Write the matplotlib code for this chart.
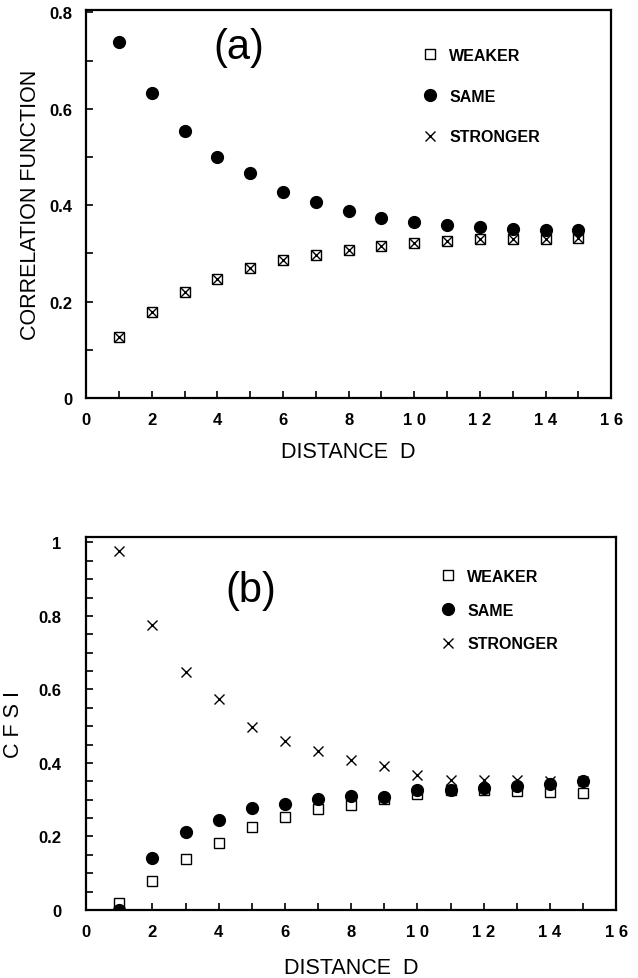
import numpy as np
import matplotlib.pyplot as plt
from matplotlib.ticker import MultipleLocator

plt.rcParams['font.family'] = ['Liberation Sans', 'DejaVu Sans']

d = [1, 2, 3, 4, 5, 6, 7, 8, 9, 10, 11, 12, 13, 14, 15]

# panel (a): correlation function
a_weaker = [0.126, 0.179, 0.219, 0.248, 0.269, 0.286, 0.297, 0.308, 0.315, 0.321, 0.326, 0.329, 0.330, 0.331, 0.332]
a_same = [0.738, 0.632, 0.555, 0.501, 0.467, 0.428, 0.406, 0.388, 0.374, 0.366, 0.358, 0.354, 0.351, 0.349, 0.348]
a_stronger = [0.126, 0.179, 0.219, 0.248, 0.269, 0.286, 0.297, 0.308, 0.315, 0.321, 0.326, 0.329, 0.330, 0.331, 0.332]

# panel (b): CFSI
b_weaker = [0.020, 0.078, 0.138, 0.181, 0.226, 0.254, 0.274, 0.286, 0.303, 0.315, 0.326, 0.327, 0.324, 0.322, 0.319]
b_same = [0.0, 0.141, 0.212, 0.245, 0.278, 0.288, 0.302, 0.310, 0.308, 0.326, 0.326, 0.331, 0.337, 0.344, 0.351]
b_stronger = [0.978, 0.776, 0.648, 0.573, 0.499, 0.460, 0.432, 0.409, 0.393, 0.367, 0.355, 0.354, 0.353, 0.351, 0.351]

labels = ['WEAKER', 'SAME', 'STRONGER']
xticks = [0, 2, 4, 6, 8, 10, 12, 14, 16]
xticklabels = [' '.join(str(v)) for v in xticks]

fig = plt.figure(figsize=(6.38, 9.79), dpi=100)
ax1 = fig.add_axes([0.135, 0.5924, 0.823, 0.3963])
ax2 = fig.add_axes([0.135, 0.0695, 0.831, 0.381])


def draw(ax, weaker, same, stronger):
    ax.plot(d, weaker, 's', mfc='white', mec='black', mew=1.0, ms=7, label=labels[0])
    ax.plot(d, same, 'o', color='black', ms=8.5, label=labels[1])
    ax.plot(d, stronger, 'x', color='black', mew=1.0, ms=7, label=labels[2])
    ax.set_xlim(0, 16)
    ax.set_xticks(xticks)
    ax.set_xticklabels(xticklabels, fontsize=12, fontweight='bold')
    ax.xaxis.set_minor_locator(MultipleLocator(1))
    ax.tick_params(axis='both', which='both', direction='in', top=False, right=False,
                   length=5, width=1.2)
    for s in ax.spines.values():
        s.set_linewidth(1.6)
    ax.set_xlabel('DISTANCE  D', fontsize=15.5)


draw(ax1, a_weaker, a_same, a_stronger)
ax1.set_ylim(0, 0.805)
ax1.set_yticks([0, 0.2, 0.4, 0.6, 0.8])
ax1.set_yticklabels(['0', '0.2', '0.4', '0.6', '0.8'], fontsize=12, fontweight='bold')
ax1.yaxis.set_minor_locator(MultipleLocator(0.1))
ax1.tick_params(axis='x', pad=10)
ax1.tick_params(axis='y', pad=10)
ax1.set_ylabel('CORRELATION FUNCTION', fontsize=15.5, labelpad=6)
ax1.xaxis.set_label_coords(0.5, -0.11)
ax1.text(0.291, 0.905, '(a)', transform=ax1.transAxes, fontsize=30,
         ha='center', va='center')
ax1.legend(loc='upper left', bbox_to_anchor=(0.640, 0.902), frameon=False,
           prop={'size': 11.5, 'weight': 'bold'}, borderpad=0, borderaxespad=0,
           handlelength=1, handletextpad=0.7, labelspacing=1.6)

draw(ax2, b_weaker, b_same, b_stronger)
ax2.set_ylim(0, 1.015)
ax2.set_yticks([0, 0.2, 0.4, 0.6, 0.8, 1.0])
ax2.set_yticklabels(['0', '0.2', '0.4', '0.6', '0.8', '1'], fontsize=12, fontweight='bold')
ax2.yaxis.set_minor_locator(MultipleLocator(0.05))
ax2.tick_params(axis='x', pad=10)
ax2.tick_params(axis='y', pad=18)
ax2.set_ylabel('C F S I', fontsize=15.5, labelpad=10)
ax2.xaxis.set_label_coords(0.5, -0.125)
ax2.text(0.311, 0.858, '(b)', transform=ax2.transAxes, fontsize=30,
         ha='center', va='center')
ax2.legend(loc='upper left', bbox_to_anchor=(0.668, 0.914), frameon=False,
           prop={'size': 11.5, 'weight': 'bold'}, borderpad=0, borderaxespad=0,
           handlelength=1, handletextpad=0.7, labelspacing=1.17)

plt.savefig('out.png', dpi=100)
